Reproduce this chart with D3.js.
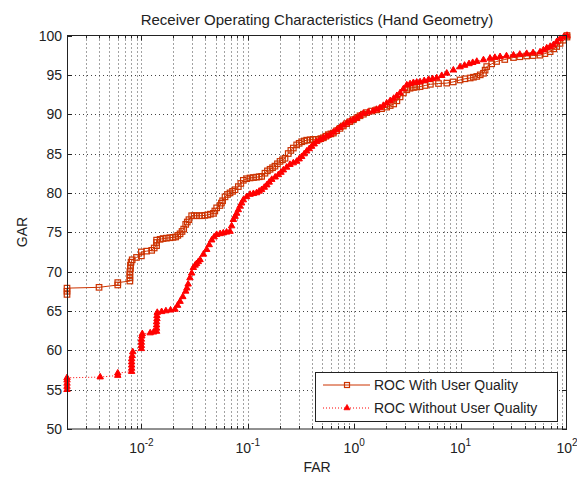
<!DOCTYPE html>
<html><head><meta charset="utf-8">
<script src="https://cdn.jsdelivr.net/npm/d3@7"></script>
<style>
body{margin:0;background:#fff}
text{font-family:"Liberation Sans",Arial,Helvetica,sans-serif;fill:#222}
</style>
</head><body>
<svg id="c" width="577" height="479"></svg>
<script>
// ---- data ----
const withFAR = [0.0020,0.0020,0.0020,0.0040,0.0060,0.0060,0.0078,0.0078,0.0078,0.0078,0.0079,0.0079,0.0080,0.0082,0.0090,0.0100,0.0100,0.0112,0.0125,0.0132,0.0139,0.0139,0.0139,0.0150,0.0160,0.0172,0.0185,0.0198,0.0210,0.0220,0.0231,0.0241,0.0250,0.0261,0.0270,0.0280,0.0297,0.0313,0.0330,0.0350,0.0370,0.0395,0.0420,0.0445,0.0475,0.0490,0.0510,0.0548,0.0565,0.0580,0.0611,0.0645,0.0681,0.0720,0.0759,0.0815,0.0860,0.0908,0.0975,0.105,0.113,0.121,0.128,0.135,0.145,0.153,0.162,0.171,0.180,0.190,0.201,0.212,0.224,0.240,0.254,0.268,0.288,0.304,0.321,0.340,0.358,0.385,0.413,0.436,0.460,0.486,0.513,0.541,0.571,0.604,0.637,0.685,0.736,0.790,0.849,0.913,0.982,1.06,1.135,1.22,1.31,1.46,1.63,1.81,2.02,2.18,2.35,2.52,2.70,2.90,3.12,3.35,3.6,3.87,4.16,4.65,5.2,6.2,7.41,8.5,9.89,11.0,12.3,13.2,14.2,15.3,16.4,17.0,17.6,19.6,21.8,26.0,31.4,36.0,41.8,48.0,55.8,62.0,69.4,75.0,80,86.0,92.5,100,100];
const withGAR = [67.1,67.5,67.9,68.0,68.3,68.6,68.8,69.2,69.6,70.0,70.4,70.8,71.2,71.5,71.8,72.0,72.5,72.6,72.7,73.0,73.3,73.7,74.0,74.1,74.2,74.25,74.3,74.35,74.4,74.6,74.8,75.1,75.4,76.0,76.3,76.6,77.1,77.1,77.1,77.1,77.1,77.15,77.2,77.3,77.4,77.7,78.1,78.4,78.7,79.0,79.5,79.8,80.0,80.2,80.4,80.8,81.2,81.6,81.8,81.9,81.95,82.0,82.05,82.1,82.5,82.8,83.0,83.2,83.4,83.7,84.0,84.2,84.4,85.0,85.4,85.7,86.1,86.3,86.5,86.6,86.7,86.75,86.8,86.8,86.8,86.9,87.0,87.2,87.4,87.5,87.6,87.9,88.2,88.5,88.8,89.05,89.3,89.55,89.8,90.0,90.2,90.4,90.55,90.7,90.9,91.1,91.3,91.7,92.2,92.7,93.1,93.3,93.4,93.45,93.5,93.65,93.8,93.9,93.95,94.1,94.35,94.5,94.6,94.7,94.8,95.0,95.2,95.6,96.05,96.4,96.7,96.95,97.2,97.3,97.4,97.45,97.5,97.7,97.95,98.3,98.6,99.0,99.4,99.8,100];

const withoutFAR = [0.0020,0.0020,0.0020,0.0020,0.0020,0.0041,0.0060,0.0060,0.0081,0.0081,0.0081,0.0081,0.0081,0.0082,0.0083,0.0100,0.0100,0.0100,0.0100,0.0101,0.0102,0.0121,0.0130,0.0139,0.0139,0.0139,0.0139,0.0140,0.0140,0.0141,0.0155,0.0170,0.0188,0.0207,0.0219,0.0231,0.0245,0.0261,0.0268,0.0275,0.0286,0.0297,0.0308,0.0320,0.0330,0.0343,0.0356,0.0383,0.0411,0.0434,0.0458,0.0483,0.0510,0.0550,0.0589,0.0632,0.0681,0.0705,0.0732,0.0760,0.0787,0.0815,0.0845,0.0875,0.0908,0.0975,0.105,0.113,0.121,0.128,0.135,0.143,0.151,0.159,0.168,0.181,0.194,0.205,0.216,0.232,0.249,0.268,0.288,0.304,0.321,0.339,0.358,0.378,0.398,0.421,0.444,0.478,0.513,0.551,0.593,0.637,0.684,0.735,0.790,0.850,0.914,0.980,1.05,1.13,1.22,1.35,1.50,1.62,1.75,1.88,2.02,2.18,2.35,2.52,2.70,2.90,3.12,3.35,3.6,3.87,4.16,4.55,5.0,5.45,5.97,6.65,7.41,8.55,9.89,10.9,12.0,13.0,14.2,16.4,18.9,21.0,23.5,27.0,31.4,36.0,41.8,48.0,55.8,60.0,64.5,69.5,74.5,80.0,86.1,93.0,100];
const withoutGAR = [55.0,55.4,55.8,56.2,56.5,56.6,56.8,57.1,57.3,57.7,58.1,58.5,58.9,59.3,59.8,60.2,60.6,61.0,61.4,61.8,62.1,62.2,62.3,62.4,62.8,63.2,63.6,64.0,64.4,64.8,64.9,65.0,65.1,65.2,65.7,66.2,66.8,67.5,67.9,68.4,69.2,69.8,70.5,70.8,71.0,71.25,71.5,72.2,72.8,73.4,74.0,74.4,74.7,74.8,74.9,75.0,75.1,75.8,76.6,77.0,77.4,77.85,78.3,78.7,79.1,79.5,79.8,79.9,80.0,80.2,80.4,80.7,81.0,81.35,81.7,82.0,82.3,82.6,82.9,83.25,83.6,83.8,84.0,84.3,84.6,84.95,85.3,85.6,85.9,86.2,86.5,86.75,87.0,87.2,87.4,87.7,88.0,88.3,88.6,88.85,89.1,89.3,89.5,89.8,90.1,90.25,90.4,90.6,90.8,91.1,91.4,91.7,92.0,92.35,92.7,93.2,93.7,93.85,94.0,94.05,94.1,94.25,94.4,94.5,94.6,94.9,95.2,95.6,96.0,96.2,96.4,96.55,96.7,96.9,97.1,97.2,97.3,97.4,97.5,97.6,97.7,97.8,97.9,98.15,98.4,98.6,98.8,99.2,99.6,99.8,100];

const yTicks = [50,55,60,65,70,75,80,85,90,95,100];
const xTickExps = [-2,-1,0,1,2];
const seriesNames = ["ROC With User Quality","ROC Without User Quality"];
const titleText = "Receiver Operating Characteristics (Hand Geometry)";
const xLabel = "FAR", yLabel = "GAR";

// ---- layout ----
const L = 67, R = 567, T = 35.5, B = 429;
const colWith = "#cc3300", colWithout = "#ff0000";
const svg = d3.select("#c");
const x = d3.scaleLog().domain([0.002, 100]).range([L, R]);
const y = d3.scaleLinear().domain([50, 100]).range([B, T]);

// log ticks (major + minor)
const xt = [];
for (let e = -3; e <= 2; e++) for (let k = 1; k <= 9; k++) {
  const v = k * Math.pow(10, e);
  if (v > 0.002 * 1.01 && v < 100 * 0.99) xt.push({v, major: k === 1});
}

const grid = svg.append("g").attr("stroke", "#444").attr("stroke-width", 1)
  .attr("stroke-dasharray", "1,3").attr("fill", "none");
xt.forEach(t => {
  const px = Math.round(x(t.v)) + 0.5;
  grid.append("line").attr("x1", px).attr("x2", px).attr("y1", T).attr("y2", B);
});
yTicks.filter(v => v > 50 && v < 100).forEach(v => {
  const py = Math.round(y(v)) + 0.5;
  grid.append("line").attr("x1", L).attr("x2", R).attr("y1", py).attr("y2", py);
});

// ticks
const tk = svg.append("g").attr("stroke", "#222").attr("stroke-width", 1);
xt.forEach(t => {
  const px = Math.round(x(t.v)) + 0.5, len = t.major ? 5 : 3;
  tk.append("line").attr("x1", px).attr("x2", px).attr("y1", B).attr("y2", B - len);
  tk.append("line").attr("x1", px).attr("x2", px).attr("y1", T).attr("y2", T + len);
});
yTicks.forEach(v => {
  const py = Math.round(y(v)) + 0.5;
  tk.append("line").attr("x1", L).attr("x2", L + 5).attr("y1", py).attr("y2", py);
  tk.append("line").attr("x1", R).attr("x2", R - 5).attr("y1", py).attr("y2", py);
});

// series
const withData = withFAR.map((f, i) => [f, withGAR[i]]);
const withoutData = withoutFAR.map((f, i) => [f, withoutGAR[i]]);
const line = d3.line().x(d => x(d[0])).y(d => y(d[1]));
const plot = svg.append("g");

plot.append("path").datum(withData).attr("d", line).attr("fill", "none")
  .attr("stroke", colWith).attr("stroke-width", 1);
plot.append("g").selectAll("rect").data(withData).join("rect")
  .attr("x", d => x(d[0]) - 2.75).attr("y", d => y(d[1]) - 2.75)
  .attr("width", 5.5).attr("height", 5.5).attr("fill", "none")
  .attr("stroke", colWith).attr("stroke-width", 1.2);

const tri = d3.symbol().type(d3.symbolTriangle).size(18);
plot.append("path").datum(withoutData).attr("d", line).attr("fill", "none")
  .attr("stroke", colWithout).attr("stroke-width", 1).attr("stroke-dasharray", "1,2");
plot.append("g").selectAll("path").data(withoutData).join("path")
  .attr("d", tri).attr("transform", d => `translate(${x(d[0])},${y(d[1])})`)
  .attr("fill", colWithout).attr("stroke", colWithout).attr("stroke-width", 1);

// box
svg.append("rect").attr("x", L + 0.5).attr("y", T).attr("width", R - L - 1).attr("height", B - T)
  .attr("fill", "none").attr("stroke", "#222").attr("stroke-width", 1);

// tick labels
yTicks.forEach(v => {
  svg.append("text").attr("x", 62).attr("y", y(v)).attr("dy", "0.36em")
    .attr("text-anchor", "end").style("font-size", "14px").text(v);
});
xTickExps.forEach(e => {
  const t = svg.append("text").attr("x", x(Math.pow(10, e))).attr("y", 453)
    .attr("text-anchor", "middle").style("font-size", "14px");
  t.append("tspan").text("10");
  t.append("tspan").attr("dy", -7).style("font-size", "10px").text(e);
});

// labels
svg.append("text").attr("x", 317).attr("y", 25).attr("text-anchor", "middle")
  .style("font-size", "15px").text(titleText);
svg.append("text").attr("x", 317).attr("y", 472).attr("text-anchor", "middle")
  .style("font-size", "14px").text(xLabel);
svg.append("text").attr("transform", "translate(27,232) rotate(-90)").attr("text-anchor", "middle")
  .style("font-size", "14px").text(yLabel);

// legend
const lg = svg.append("g");
lg.append("rect").attr("x", 315.5).attr("y", 372.5).attr("width", 242).attr("height", 49)
  .attr("fill", "#fff").attr("stroke", "#222").attr("stroke-width", 1);
const rows = [385, 408];
lg.append("line").attr("x1", 323).attr("x2", 370).attr("y1", rows[0]).attr("y2", rows[0])
  .attr("stroke", colWith).attr("stroke-width", 1);
lg.append("rect").attr("x", 344.5).attr("y", rows[0] - 2.5).attr("width", 5).attr("height", 5)
  .attr("fill", "none").attr("stroke", colWith).attr("stroke-width", 1.2);
lg.append("line").attr("x1", 323).attr("x2", 370).attr("y1", rows[1]).attr("y2", rows[1])
  .attr("stroke", colWithout).attr("stroke-width", 1).attr("stroke-dasharray", "1,2");
lg.append("path").attr("d", d3.symbol().type(d3.symbolTriangle).size(16)).attr("transform", `translate(347,${rows[1]})`)
  .attr("fill", colWithout).attr("stroke", colWithout).attr("stroke-width", 0.8);
seriesNames.forEach((s, i) => {
  lg.append("text").attr("x", 374).attr("y", rows[i]).attr("dy", "0.36em")
    .style("font-size", "14px").text(s);
});
</script>
</body></html>
